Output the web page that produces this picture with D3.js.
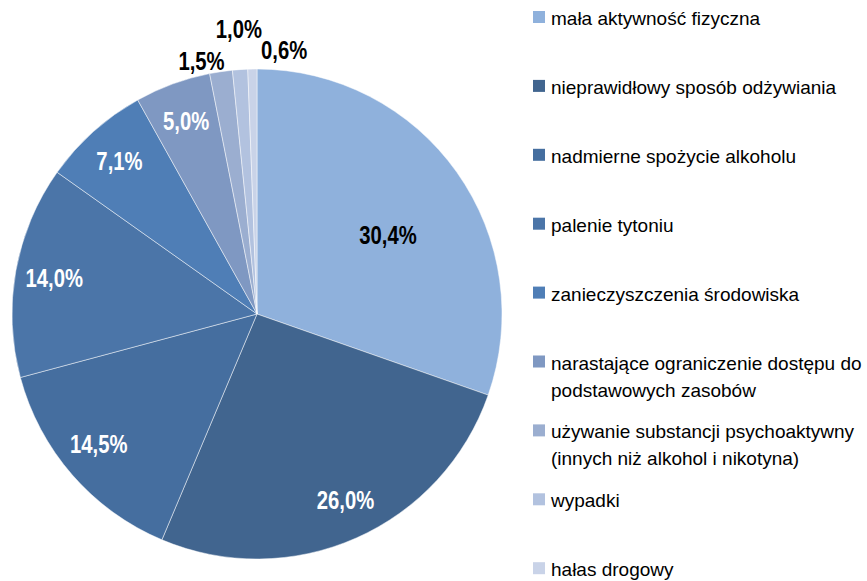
<!DOCTYPE html>
<html>
<head>
<meta charset="utf-8">
<script src="https://cdn.jsdelivr.net/npm/d3@7"></script>
<style>
  body { margin: 0; background: #fff; }
  text { font-family: "Liberation Sans", Arial, sans-serif; }
  .lbl { font-weight: bold; font-size: 25px; }
  .leg { font-size: 19px; fill: #000; }
</style>
</head>
<body>
<div id="container"></div>
<script>
/* data */
var categories = [
  ["mała aktywność fizyczna"],
  ["nieprawidłowy sposób odżywiania"],
  ["nadmierne spożycie alkoholu"],
  ["palenie tytoniu"],
  ["zanieczyszczenia środowiska"],
  ["narastające ograniczenie dostępu do", "podstawowych zasobów"],
  ["używanie substancji psychoaktywny", "(innych niż alkohol i nikotyna)"],
  ["wypadki"],
  ["hałas drogowy"]
];
var values = [30.4, 26.0, 14.5, 14.0, 7.1, 5.0, 1.5, 1.0, 0.6];
var valueLabels = ["30,4%", "26,0%", "14,5%", "14,0%", "7,1%", "5,0%", "1,5%", "1,0%", "0,6%"];
var colors = ["#8fb1dc", "#41658f", "#456e9f", "#4b75a8", "#4f7eb6", "#7f98c2", "#9baed0", "#b2c2df", "#c9d3e8"];

/* setup the dimensions */
var width = 867, height = 581,
    cx = 257, cy = 314, radius = 245;

var svg = d3.select("#container")
            .append("svg")
            .attr("width", width)
            .attr("height", height);

var g = svg.append("g")
           .attr("transform", "translate(" + cx + "," + cy + ")");

var pie = d3.pie().sort(null).value(function(d) { return d; });
var arc = d3.arc().innerRadius(0).outerRadius(radius);
var arcs = pie(values);

g.selectAll(".slice")
  .data(arcs)
  .enter().append("path")
    .attr("class", "slice")
    .attr("d", arc)
    .style("fill", function(d, i) { return colors[i]; })
    .style("stroke", "#fff")
    .style("stroke-width", 0.8)
    .style("stroke-opacity", 0.6);

/* label placement: inside labels on a ring, small slices outside with a hand nudge */
var inner = d3.arc().innerRadius(206).outerRadius(206);
var outer = d3.arc().innerRadius(262).outerRadius(262);
var big = d3.arc().innerRadius(152).outerRadius(152);
var nudge = { 0: [7, 9], 1: [5, -2], 2: [-3, -5], 6: [-17, 6], 7: [0, -24], 8: [32, -2] };

// no narrow font installed, so squeeze the bold face instead
var squeeze = 0.81;

g.selectAll(".lbl")
  .data(arcs)
  .enter().append("text")
    .attr("class", "lbl")
    .attr("text-anchor", "middle")
    .attr("dy", "0.36em")
    .attr("transform", function(d, i) {
      var p = (i === 0 ? big : values[i] < 2 ? outer : inner).centroid(d);
      var n = nudge[i] || [0, 0];
      return "translate(" + (p[0] + n[0]) + "," + (p[1] + n[1]) + ") scale(" + squeeze + ",1)";
    })
    .style("fill", function(d, i) { return (i === 0 || values[i] < 2) ? "#000" : "#fff"; })
    .text(function(d, i) { return valueLabels[i]; });

/* legend */
var step = 68.9;
var leg = svg.append("g").attr("transform", "translate(533,25)");

var item = leg.selectAll(".item")
  .data(categories)
  .enter().append("g")
    .attr("class", "item")
    .attr("transform", function(d, i) { return "translate(0," + (i * step) + ")"; });

item.append("rect")
    .attr("x", 0)
    .attr("y", -14)
    .attr("width", 12)
    .attr("height", 12)
    .style("fill", function(d, i) { return colors[i]; });

item.append("text")
    .attr("class", "leg")
    .selectAll("tspan")
    .data(function(d) { return d; })
    .enter().append("tspan")
      .attr("x", 18)
      .attr("y", function(d, j) { return j * 27; })
      .text(function(d) { return d; });
</script>
</body>
</html>
